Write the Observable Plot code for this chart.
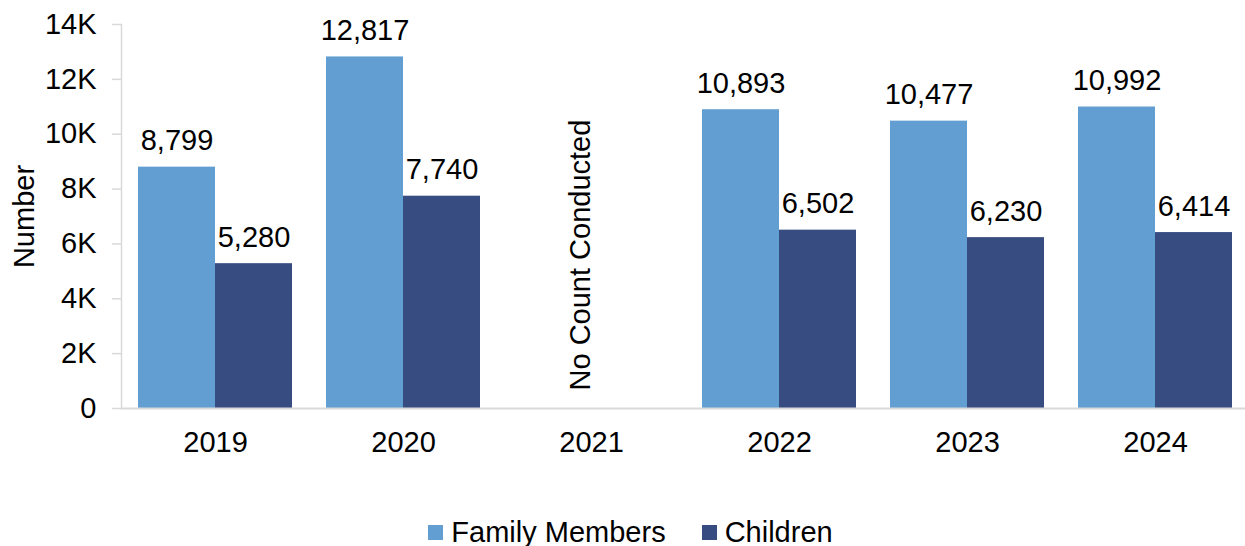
<!DOCTYPE html>
<html>
<head>
<meta charset="utf-8">
<script src="https://cdn.jsdelivr.net/npm/d3@7"></script>
<script src="https://cdn.jsdelivr.net/npm/@observablehq/plot@0.6"></script>
<style>
  html, body { margin: 0; background: #fff; font-family: "Liberation Sans", Arial, sans-serif; overflow: hidden; width: 1245px; }
  #chart { width: 1245px; height: 490px; overflow: hidden; }
  #chart svg { max-width: none !important; height: 490px !important; display: block; }
  #legend { display: flex; justify-content: center; align-items: center; width: 1245px; height: 30px; margin-top: 27px; padding-left: 16px; box-sizing: border-box; font-size: 29px; color: #000; }
  #legend .item { display: inline-flex; align-items: center; margin: 0 18px; }
  #legend .sw { display: inline-block; width: 15px; height: 15px; margin-right: 8px; }
</style>
</head>
<body>
<div id="chart"></div>
<div id="legend"></div>
<script>
const years = ["2019", "2020", "2021", "2022", "2023", "2024"];
const familyMembers = [8799, 12817, null, 10893, 10477, 10992];
const children = [5280, 7740, null, 6502, 6230, 6414];
const seriesNames = ["Family Members", "Children"];
const seriesColors = ["#629ed2", "#374c80"];
const yTicks = [0, 2000, 4000, 6000, 8000, 10000, 12000, 14000];
const noteYears = ["2021"];
const noteText = "No Count Conducted";
const yLabel = "Number";

const rows = years.flatMap((yr, i) => [
  {year: yr, series: seriesNames[0], value: familyMembers[i]},
  {year: yr, series: seriesNames[1], value: children[i]}
]).filter(d => d.value != null);

const fmt = d3.format(",");
const font = "'Liberation Sans', Arial, sans-serif";

const chart = Plot.plot({
  width: 1250,
  height: 490,
  marginLeft: 120,
  marginRight: 0,
  marginTop: 24,
  marginBottom: 82,
  style: {fontFamily: font, fontSize: "29px", color: "#000", background: "#fff"},
  fx: {domain: years, padding: 0, label: null},
  x: {domain: seriesNames, paddingInner: 0, paddingOuter: 0.22, axis: null},
  y: {domain: [0, 14000]},
  color: {domain: seriesNames, range: seriesColors},
  marks: [
    Plot.frame({anchor: "left", facetAnchor: "left", stroke: "#d9d9d9", strokeWidth: 1.5}),
    Plot.barY(rows, {fx: "year", x: "series", y: "value", fill: "series"}),
    Plot.ruleY([0], {stroke: "#d9d9d9", strokeWidth: 2}),
    Plot.axisY({ticks: yTicks, tickSize: 9, stroke: "#d9d9d9", strokeWidth: 1.5, fill: "none", facetAnchor: "left", label: null}),
    Plot.axisY({ticks: yTicks, tickSize: 0, tickPadding: 25, fill: "#000", fontSize: 29,
      tickFormat: d => d === 0 ? "0" : d / 1000 + "K", facetAnchor: "left",
      label: yLabel, labelAnchor: "center", labelArrow: "none", labelOffset: 108}),
    Plot.axisFx({anchor: "bottom", tickSize: 0, tickPadding: 23, fontSize: 29, fill: "#000", label: null}),
    Plot.text(rows, {fx: "year", x: "series", y: "value", text: d => fmt(d.value),
      dy: -17, lineAnchor: "bottom", fontSize: 29, fill: "#000"}),
    Plot.text(noteYears, {fx: d => d, text: () => noteText, frameAnchor: "bottom",
      rotate: -90, textAnchor: "start", dy: -18, dx: -2, fontSize: 29, fill: "#000"})
  ]
});
document.getElementById("chart").appendChild(chart);

const legend = d3.select("#legend");
seriesNames.forEach((name, i) => {
  const item = legend.append("span").attr("class", "item");
  item.append("span").attr("class", "sw").style("background", seriesColors[i]);
  item.append("span").text(name);
});
</script>
</body>
</html>
